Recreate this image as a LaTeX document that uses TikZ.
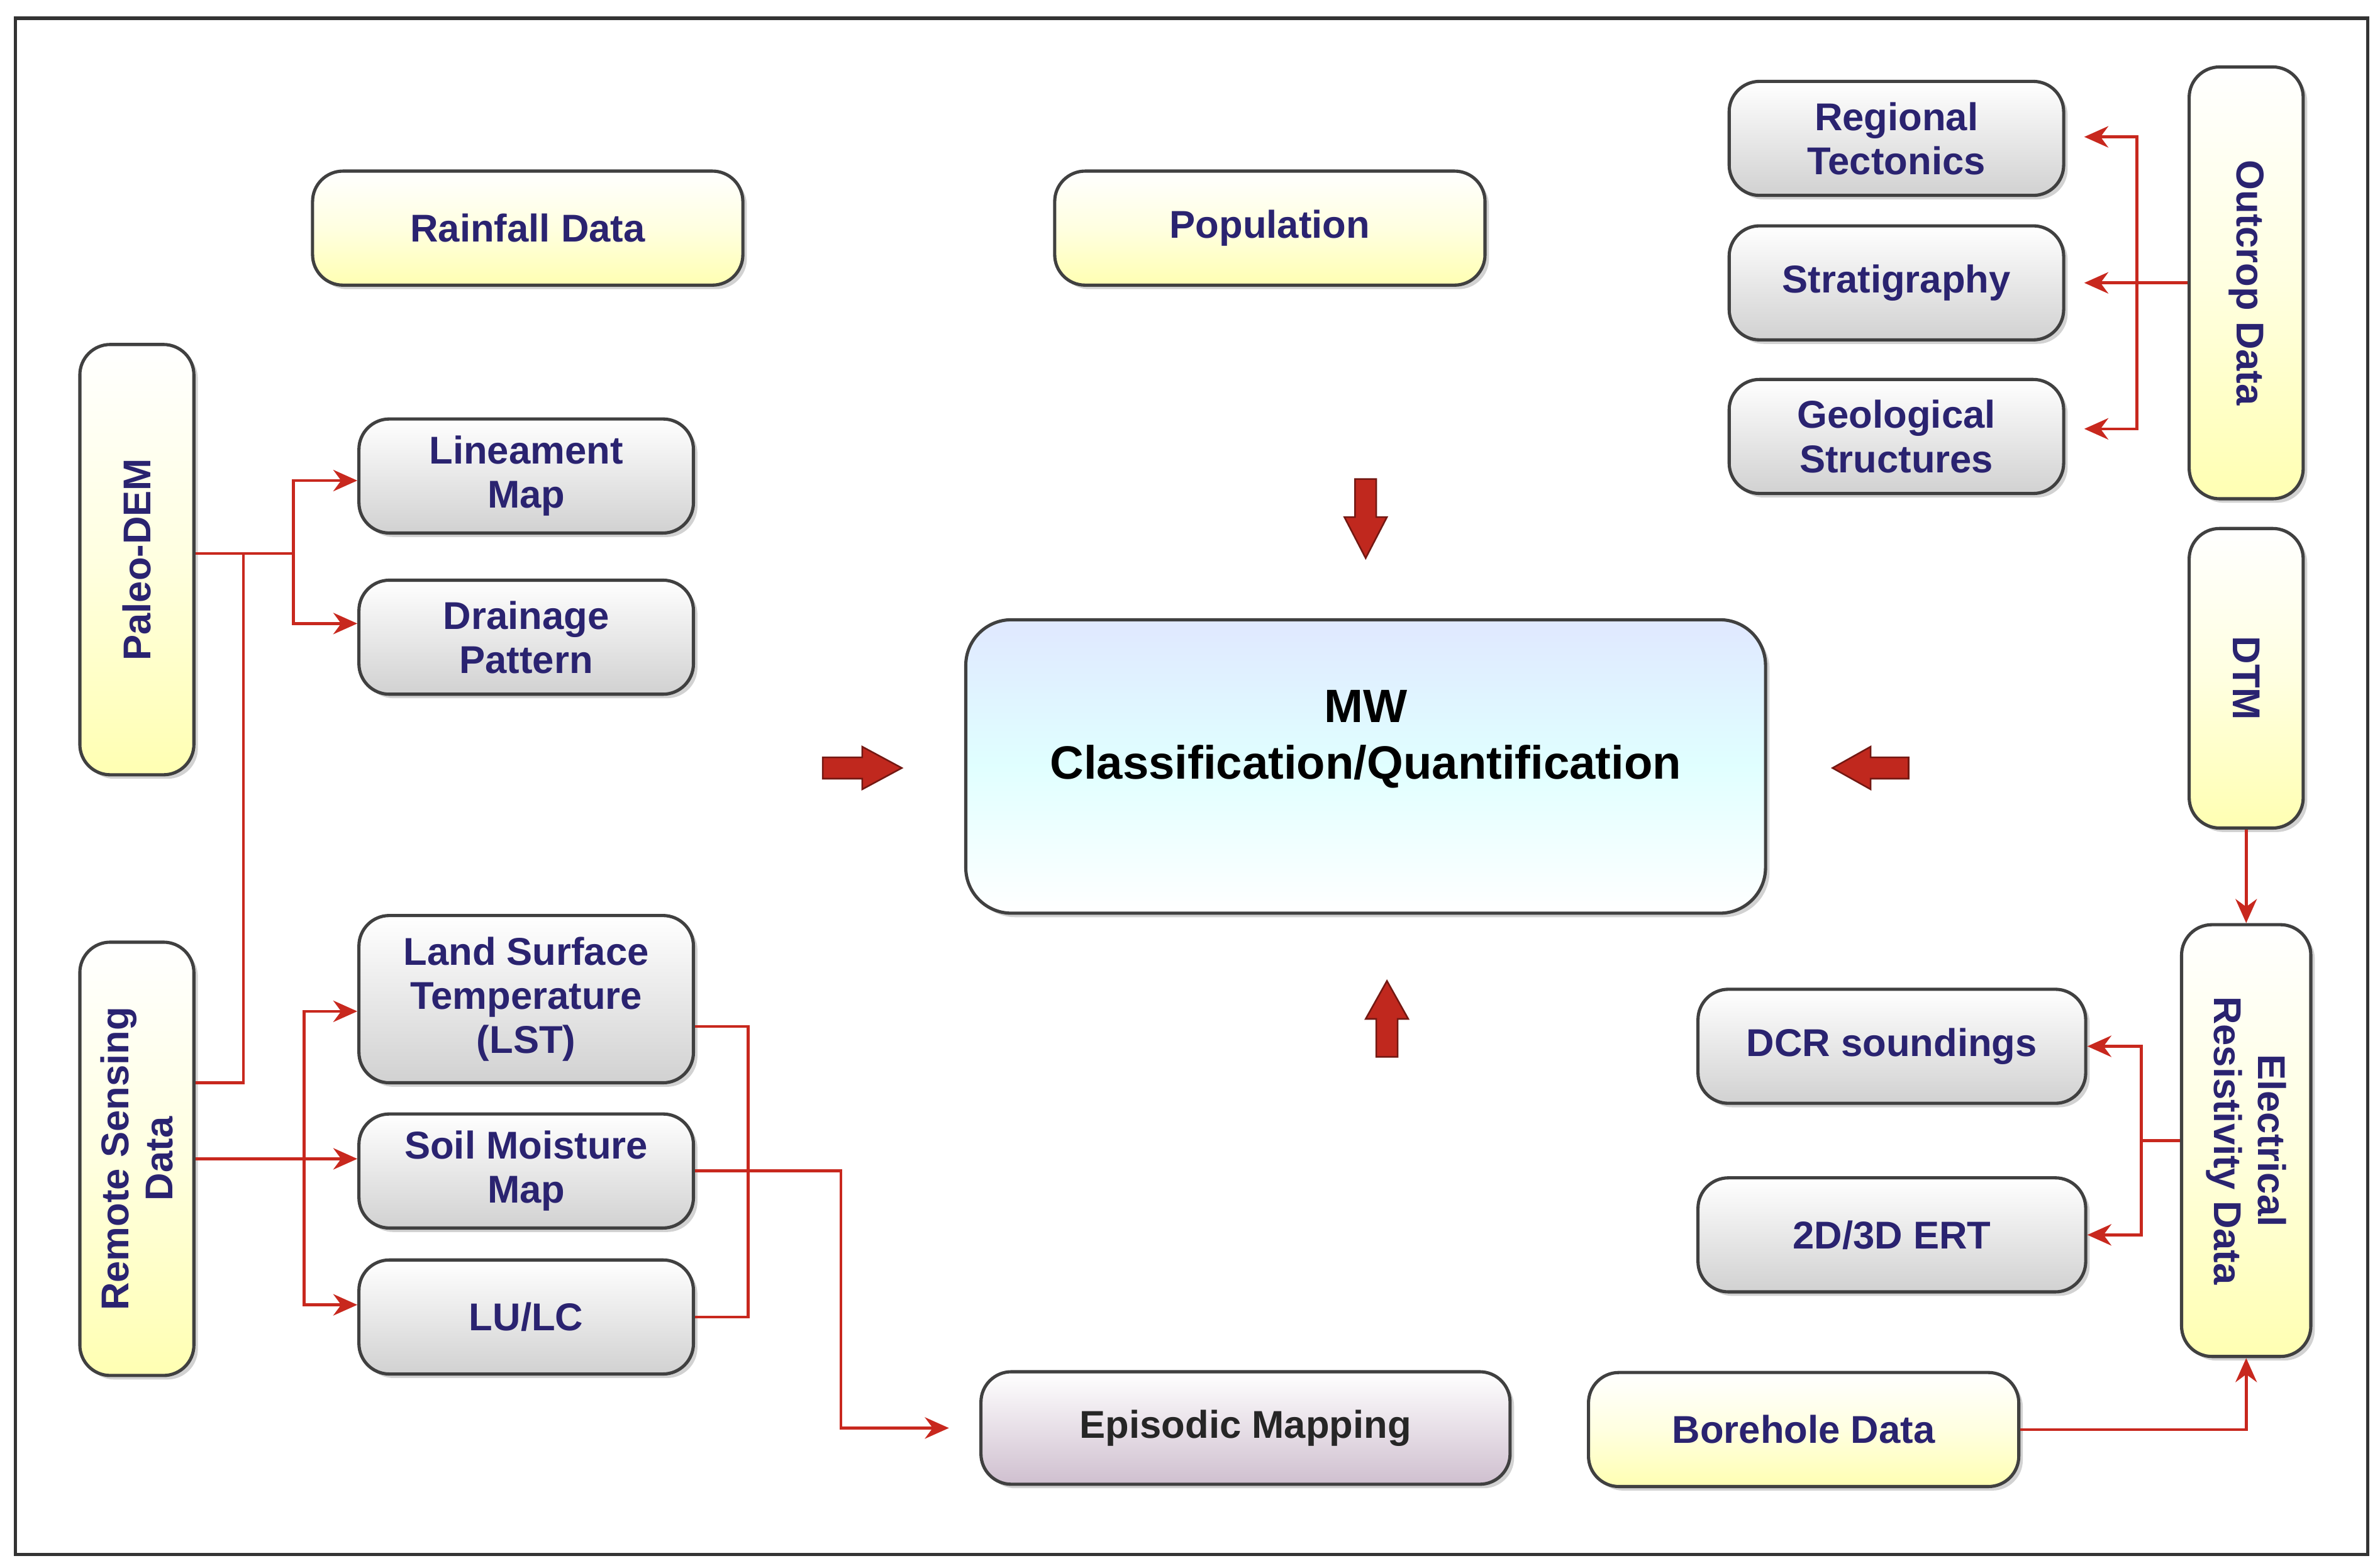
\documentclass[tikz,border=0pt]{standalone}
\usepackage{fontspec}
\setmainfont{Liberation Sans}
\usetikzlibrary{arrows.meta,shadows}
\definecolor{txt}{HTML}{2A2370}
\definecolor{ln}{HTML}{C8281E}
\definecolor{ar}{HTML}{C0281E}
\begin{document}
\begin{tikzpicture}[x=0.02cm,y=-0.02cm,
 box/.style={draw=black!75,line width=1.2pt,rounded corners=0.4cm,align=center,
   font=\fontsize{14.5}{16.5}\selectfont\bfseries,text=txt,inner sep=2pt,
   drop shadow={shadow xshift=1.5pt,shadow yshift=-1.5pt,opacity=0.35}},
 yel/.style={box,top color=white,bottom color=yellow!30,middle color=yellow!12},
 gry/.style={box,top color=white,bottom color=black!18},
 sm/.style={minimum width=4.4cm,minimum height=1.5cm},
 con/.style={draw=ln,line width=1.1pt},
 arr/.style={con,-{Stealth[length=9pt,width=8pt]}},
 blk/.style={fill=ar,draw=ar!60!black,line width=0.6pt,line join=miter}]
\useasboundingbox (0,0) rectangle (1565,1031);
\fill[white] (0,0) rectangle (1565,1031);
\draw[line width=1.2pt,black!80] (10,12) rectangle (1557,1022);
% left
\node[yel,minimum width=5.66cm,minimum height=1.5cm] (rain) at (347,150) {Rainfall Data};
\node[yel,minimum width=5.66cm,minimum height=1.5cm] (pop) at (835,150) {Population};
\node[yel,rotate=90,minimum width=5.66cm,minimum height=1.5cm] (pdem) at (90,368) {Paleo-DEM};
\node[yel,rotate=90,minimum width=5.7cm,minimum height=1.5cm] (rs) at (90,762) {Remote Sensing\\Data};
\node[gry,sm] (lin) at (346,313) {Lineament\\Map};
\node[gry,sm] (dra) at (346,419) {Drainage\\Pattern};
\node[gry,minimum width=4.4cm,minimum height=2.2cm] (lst) at (346,657) {Land Surface\\Temperature\\(LST)};
\node[gry,sm] (soil) at (346,770) {Soil Moisture\\Map};
\node[gry,sm] (lulc) at (346,866) {LU/LC};
% center
\node[box,top color=cyan!25!blue!12!white,bottom color=white,middle color=cyan!12!white,text=black,
  font=\fontsize{17.5}{21}\selectfont\bfseries,minimum width=10.52cm,minimum height=3.86cm,rounded corners=0.6cm] (mw) at (898,504) {MW\\Classification/Quantification\\[0.1cm]};
\node[box,top color=white,bottom color=magenta!25!black!25,text=black!85,minimum width=6.96cm,minimum height=1.48cm] (epi) at (819,939) {Episodic Mapping};
\node[yel,minimum width=5.66cm,minimum height=1.5cm] (bore) at (1186,940) {Borehole Data};
% right
\node[gry,sm] (reg) at (1247,91) {Regional\\Tectonics};
\node[gry,sm] (str) at (1247,186) {Stratigraphy};
\node[gry,sm] (geo) at (1247,287) {Geological\\Structures};
\node[yel,rotate=-90,minimum width=5.68cm,minimum height=1.5cm] (out) at (1477,186) {Outcrop Data};
\node[yel,rotate=-90,minimum width=3.94cm,minimum height=1.5cm] (dtm) at (1477,446) {DTM};
\node[yel,rotate=-90,minimum width=5.68cm,minimum height=1.7cm] (ele) at (1477,750) {Electrical\\Resistivity Data};
\node[gry,minimum width=5.1cm,minimum height=1.5cm] (dcr) at (1244,688) {DCR soundings};
\node[gry,minimum width=5.1cm,minimum height=1.5cm] (ert) at (1244,812) {2D/3D ERT};
% block arrows
\path[blk] (891,315) -- (905,315) -- (905,340) -- (912,340) -- (898,367) -- (884,340) -- (891,340) -- cycle;
\path[blk] (905,695) -- (919,695) -- (919,670) -- (926,670) -- (912,645) -- (898,670) -- (905,670) -- cycle;
\path[blk] (541,498) -- (567,498) -- (567,491) -- (593,505) -- (567,519) -- (567,512) -- (541,512) -- cycle;
\path[blk] (1255,498) -- (1230,498) -- (1230,491) -- (1205,505) -- (1230,519) -- (1230,512) -- (1255,512) -- cycle;
% connectors
\coordinate (p1) at (193,364);
\draw[con] (pdem.south |- p1) -- (p1);
\draw[arr] (193,364) |- (lin.west |- 0,316);
\draw[arr] (193,364) |- (dra.west |- 0,410);
\draw[con] (rs.south |- 0,712) -| (160,364);
\draw[arr] (rs.south |- 0,762) -- (soil.west |- 0,762);
\draw[arr] (200,762) |- (lst.west |- 0,665);
\draw[arr] (200,762) |- (lulc.west |- 0,858);
\draw[con] (lst.east |- 0,675) -| (492,866) -- (lulc.east |- 0,866);
\draw[arr] (soil.east |- 0,770) -| (553,939) -- ([xshift=-0.4cm]epi.west);
\draw[con] (out.south |- 0,186) -- (1405,186);
\draw[arr] (1405,186) |- ([xshift=0.25cm]reg.east |- 0,90);
\draw[arr] (1405,186) -- ([xshift=0.25cm]str.east |- 0,186);
\draw[arr] (1405,186) |- ([xshift=0.25cm]geo.east |- 0,282);
\draw[arr] (dtm.east) -- (ele.west);
\draw[con] (ele.south |- 0,750) -- (1408,750);
\draw[arr] (1408,750) |- (dcr.east |- 0,688);
\draw[arr] (1408,750) |- (ert.east |- 0,812);
\draw[arr] (bore.east) -| (ele.east);
\end{tikzpicture}
\end{document}
